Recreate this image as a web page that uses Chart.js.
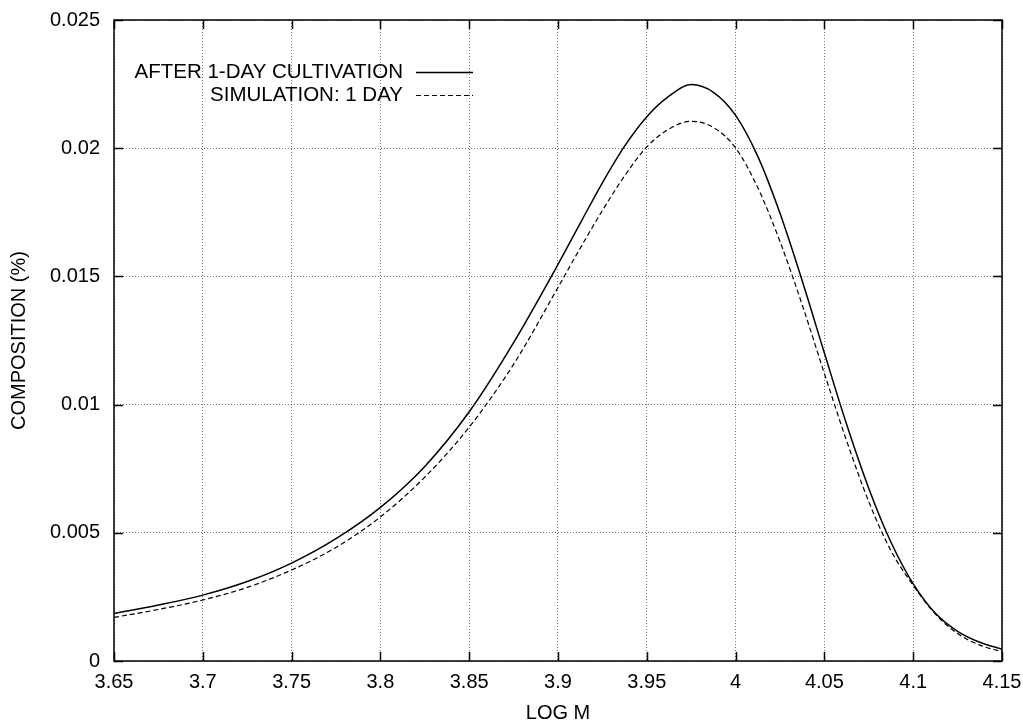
<!DOCTYPE html>
<html>
<head>
<meta charset="utf-8">
<script src="https://cdn.jsdelivr.net/npm/chart.js@4/dist/chart.umd.min.js"></script>
<style>
html,body{margin:0;padding:0;background:#fff;}
#wrap{width:1023px;height:721px;position:relative;}
</style>
</head>
<body>
<div id="wrap"><canvas id="c" width="1023" height="721"></canvas></div>
<script>
const logM = [3.65, 3.675, 3.70, 3.725, 3.75, 3.775, 3.80, 3.825, 3.85, 3.875, 3.90, 3.9125, 3.925, 3.9375, 3.95, 3.9625, 3.975, 3.9875, 4.00, 4.0125, 4.025, 4.0375, 4.05, 4.0625, 4.075, 4.0875, 4.10, 4.1125, 4.125, 4.1375, 4.15];
const cultivation = [0.00185, 0.00218, 0.00257, 0.0031, 0.00382, 0.00477, 0.00599, 0.00759, 0.00972, 0.01242, 0.01547, 0.01707, 0.01865, 0.02008, 0.02123, 0.02203, 0.02248, 0.02218, 0.02128, 0.01968, 0.01746, 0.01483, 0.01201, 0.00923, 0.00673, 0.00463, 0.00301, 0.00186, 0.00116, 0.00073, 0.00046];
const simulation = [0.0017, 0.00201, 0.00238, 0.00287, 0.00355, 0.00443, 0.00562, 0.00717, 0.00912, 0.01157, 0.01457, 0.0161, 0.01757, 0.01892, 0.02005, 0.02075, 0.02105, 0.02081, 0.02001, 0.01846, 0.01636, 0.01389, 0.01121, 0.00859, 0.00621, 0.0043, 0.00295, 0.00183, 0.00107, 0.00062, 0.00036];
const seriesLabels = ['AFTER 1-DAY CULTIVATION', 'SIMULATION: 1 DAY'];
const xTickValues = [3.65, 3.7, 3.75, 3.8, 3.85, 3.9, 3.95, 4, 4.05, 4.1, 4.15];
const yTickValues = [0, 0.005, 0.01, 0.015, 0.02, 0.025];

const FONT = "'Liberation Sans', Arial, Helvetica, sans-serif";

const toXY = (ys) => logM.map((x, i) => ({x: x, y: ys[i]}));

const frame = {
  id: 'frame',
  afterDatasetsDraw(chart) {
    const ctx = chart.ctx, a = chart.chartArea;
    const xs = chart.scales.x, ys = chart.scales.y;
    ctx.save();
    ctx.strokeStyle = '#000';
    ctx.lineWidth = 1.5;
    ctx.setLineDash([]);
    ctx.strokeRect(a.left, a.top, a.right - a.left, a.bottom - a.top);
    const L = 9;
    ctx.beginPath();
    xs.ticks.forEach(t => {
      const px = Math.round(xs.getPixelForValue(t.value)) + 0.5;
      ctx.moveTo(px, a.bottom); ctx.lineTo(px, a.bottom - L);
      ctx.moveTo(px, a.top); ctx.lineTo(px, a.top + L);
    });
    ys.ticks.forEach(t => {
      const py = Math.round(ys.getPixelForValue(t.value)) + 0.5;
      ctx.moveTo(a.left, py); ctx.lineTo(a.left + L, py);
      ctx.moveTo(a.right, py); ctx.lineTo(a.right - L, py);
    });
    ctx.stroke();

    // key
    ctx.font = '20.5px ' + FONT;
    ctx.fillStyle = '#000';
    ctx.textAlign = 'right';
    ctx.textBaseline = 'middle';
    const rows = [72, 95];
    chart.data.datasets.forEach((ds, i) => {
      const y = rows[i];
      ctx.fillText(ds.label, 403, y);
      ctx.beginPath();
      ctx.setLineDash(ds.borderDash || []);
      ctx.lineWidth = ds.borderWidth;
      ctx.strokeStyle = ds.borderColor;
      ctx.moveTo(416, y + 0.5); ctx.lineTo(473, y + 0.5);
      ctx.stroke();
    });
    ctx.restore();
  }
};

new Chart(document.getElementById('c'), {
  type: 'line',
  data: {
    datasets: [
      {label: seriesLabels[0], data: toXY(cultivation), borderColor: '#000', borderWidth: 1.5, pointRadius: 0, fill: false, cubicInterpolationMode: 'monotone'},
      {label: seriesLabels[1], data: toXY(simulation), borderColor: '#000', borderWidth: 1.2, borderDash: [5, 3], pointRadius: 0, fill: false, cubicInterpolationMode: 'monotone'}
    ]
  },
  options: {
    responsive: false,
    animation: false,
    devicePixelRatio: 1,
    layout: {padding: {top: 20, right: 21, left: 0, bottom: 0}},
    plugins: {legend: {display: false}, tooltip: {enabled: false}},
    scales: {
      x: {
        type: 'linear', min: 3.65, max: 4.15,
        afterBuildTicks(s) { s.ticks = xTickValues.map(v => ({value: v})); },
        afterFit(s) { s.height = 60; s.paddingLeft = 0; s.paddingRight = 0; },
        ticks: {
          callback: v => String(Number(v.toFixed(3))),
          color: '#000', font: {family: FONT, size: 20}, padding: 9, maxRotation: 0, autoSkip: false
        },
        grid: {color: 'rgba(0,0,0,0.55)', lineWidth: 1, drawTicks: false},
        border: {display: false, dash: [1, 2]},
        title: {display: true, text: 'LOG M', color: '#000', font: {family: FONT, size: 20, lineHeight: 0.8}, padding: {top: 0, bottom: 0}}
      },
      y: {
        type: 'linear', min: 0, max: 0.025,
        afterBuildTicks(s) { s.ticks = yTickValues.map(v => ({value: v})); },
        afterFit(s) { s.width = 114; s.paddingTop = 0; s.paddingBottom = 0; },
        ticks: {
          callback: v => String(Number(v.toFixed(4))),
          color: '#000', font: {family: FONT, size: 20}, padding: 14
        },
        grid: {color: 'rgba(0,0,0,0.55)', lineWidth: 1, drawTicks: false},
        border: {display: false, dash: [1, 2]},
        title: {display: true, text: 'COMPOSITION (%)', color: '#000', font: {family: FONT, size: 20}, padding: {top: 7, bottom: 0}}
      }
    }
  },
  plugins: [frame]
});
</script>
</body>
</html>
